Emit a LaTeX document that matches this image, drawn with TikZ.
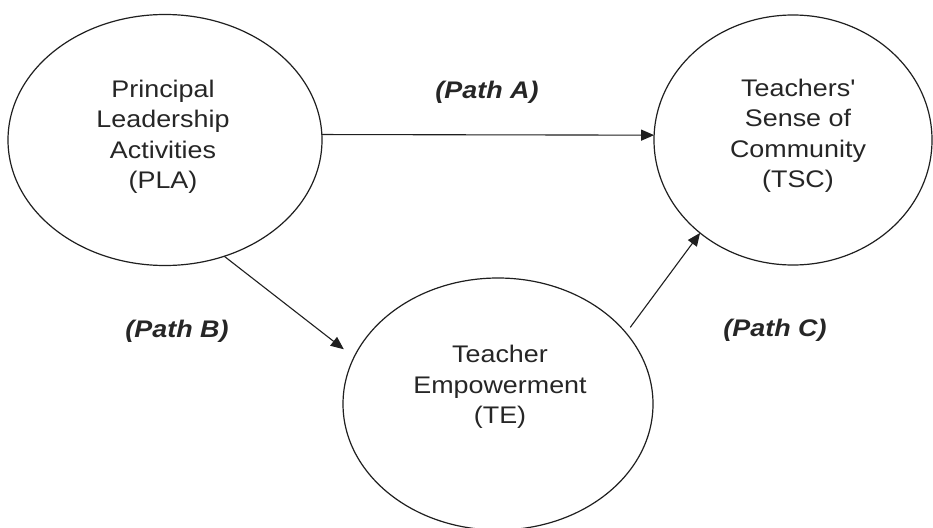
\documentclass[tikz,border=0pt]{standalone}
\usepackage{fontspec}
\setmainfont{Liberation Sans}[FakeStretch=1.12]
\usetikzlibrary{shapes.geometric,arrows.meta}

\tikzset{
  construct/.style={draw=black!88, line width=1.2pt, shape=ellipse,
    inner sep=0pt, outer sep=0pt},
  caption/.style={align=center, text=black!85, inner sep=0pt,
    font=\fontsize{24}{30.5}\selectfont},
  pathlabel/.style={text=black!85, inner sep=0pt,
    font=\fontsize{24}{28}\selectfont\bfseries\itshape},
  effect/.style={draw=black!88, line width=1.1pt,
    -{Triangle[length=13pt,width=11pt]}},
}

\begin{document}
\begin{tikzpicture}[x=1pt, y=-1pt]
  \useasboundingbox[fill=white] (0,0) rectangle (933,527);

  % the three constructs
  \node[construct, minimum width=314pt, minimum height=251pt] (pla) at (165,140) {};
  \node[construct, minimum width=278pt, minimum height=250pt] (tsc) at (793,140) {};
  \node[construct, minimum width=310pt, minimum height=252pt] (te)  at (498,404) {};

  % construct names
  \node[caption] (plaText) at (163,137) {Principal\\Leadership\\Activities\\(PLA)};
  \node[caption] (tscText) at (798,136) {Teachers\textquotesingle\\Sense of\\Community\\(TSC)};
  \node[caption] (teText)  at (500,387) {Teacher\\Empowerment\\(TE)};

  % hypothesised paths
  \draw[effect] (pla.2) -- (tsc.178);
  \draw[effect, shorten >=13pt] (pla.-63) -- (te.162);
  \draw[effect, shorten <=7pt] (te.29) -- (tsc.-135);

  % path labels
  \node[pathlabel] (labA) at (487,92)  {(Path A)};
  \node[pathlabel] (labB) at (177,331) {(Path B)};
  \node[pathlabel] (labC) at (775,330) {(Path C)};
\end{tikzpicture}
\end{document}
